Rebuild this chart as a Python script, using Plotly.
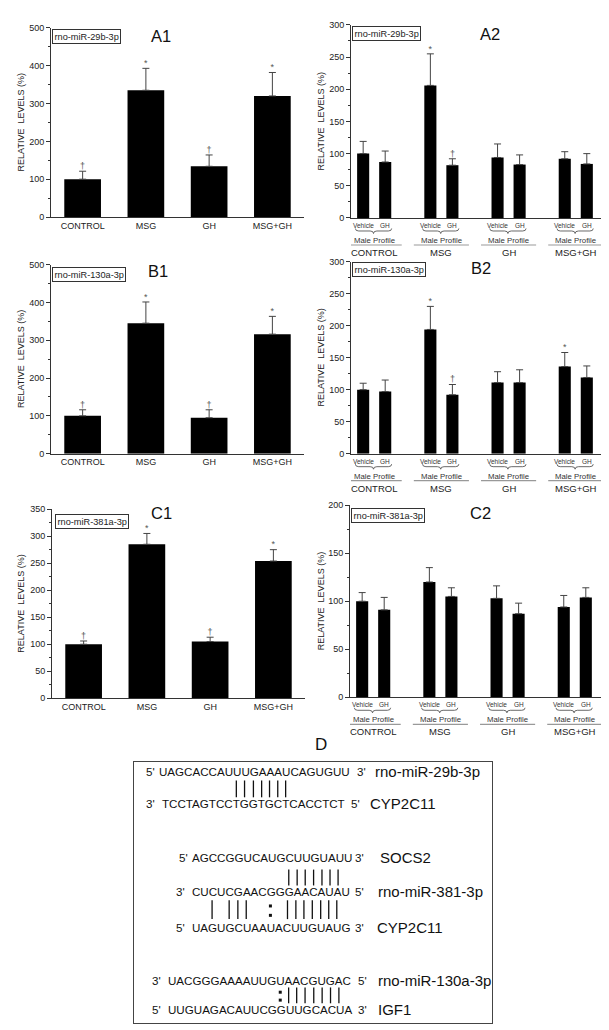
import numpy as np
import plotly.graph_objects as go

W, H = 609, 1030
FONT = "Liberation Sans, Arial, sans-serif"

# ---------------- data ----------------
groups = ["CONTROL", "MSG", "GH", "MSG+GH"]
subgroups = ["Vehicle", "GH"]
profile_label = "Male Profile"

a1_vals = [100, 335, 134, 320]
a1_err = [21, 58, 30, 62]
a1_sig = ["†", "*", "†", "*"]

a2_vehicle = [100, 206, 94, 92]
a2_vehicle_err = [19, 49, 21, 11]
a2_vehicle_sig = ["", "*", "", ""]
a2_gh = [87, 82, 83, 84]
a2_gh_err = [17, 10, 15, 16]
a2_gh_sig = ["", "†", "", ""]

b1_vals = [100, 345, 95, 316]
b1_err = [16, 56, 21, 47]
b1_sig = ["†", "*", "†", "*"]

b2_vehicle = [100, 194, 111, 136]
b2_vehicle_err = [10, 36, 17, 22]
b2_vehicle_sig = ["", "*", "", "*"]
b2_gh = [97, 92, 111, 119]
b2_gh_err = [18, 16, 20, 18]
b2_gh_sig = ["", "†", "", ""]

c1_vals = [100, 285, 105, 254]
c1_err = [6, 20, 8, 21]
c1_sig = ["†", "*", "†", "*"]

c2_vehicle = [100, 120, 103, 94]
c2_vehicle_err = [9, 15, 13, 12]
c2_vehicle_sig = ["", "", "", ""]
c2_gh = [91, 105, 87, 104]
c2_gh_err = [13, 9, 11, 10]
c2_gh_sig = ["", "", "", ""]

# panel D sequences
d_seqs = ["UAGCACCAUUUGAAAUCAGUGUU", "TCCTAGTCCTGGTGCTCACCTCT",
          "AGCCGGUCAUGCUUGUAUU", "CUCUCGAACGGGAACAUAU", "UAGUGCUAAUACUUGUAUG",
          "UACGGGAAAAUUGUAACGUGAC", "UUGUAGACAUUCGGUUGCACUA"]
d_left = ["5'", "3'", "5'", "3'", "5'", "3'", "5'"]
d_right = ["3'", "5'", "3'", "5'", "3'", "5'", "3'"]
d_names = ["rno-miR-29b-3p", "CYP2C11", "SOCS2", "rno-miR-381-3p",
           "CYP2C11", "rno-miR-130a-3p", "IGF1"]
# (upper row, lower row, Watson-Crick indices, wobble indices)
d_pairs = [(0, 1, list(range(9, 16)), []),
           (2, 3, list(range(11, 18)), []),
           (3, 4, [2, 4, 5, 6] + list(range(11, 18)), [9]),
           (5, 6, list(range(14, 21)), [13])]

# ---------------- layout helpers (pixel -> paper) ----------------
def pdx(a, b):
    return [a / W, b / W]

def pdy(top, bottom):
    return [1 - bottom / H, 1 - top / H]

def px(x):
    return x / W

def py(y):
    return 1 - y / H

fig = go.Figure()
layout = dict(width=W, height=H, margin=dict(l=0, r=0, t=0, b=0),
              paper_bgcolor="white", plot_bgcolor="white", showlegend=False,
              font=dict(family=FONT, color="#222"))
annotations = []
shapes = []

AX = "#333"
ERR = dict(color="#444", thickness=1, width=3.5)

panels = [
    dict(n=1, kind=1, vals=a1_vals, err=a1_err, sig=a1_sig, ymax=500, dtick=100,
         dx=(43, 296), dy=(15, 206), label="A1", lab_xy=(153, 23),
         mir="rno-miR-29b-3p", box=(44, 16)),
    dict(n=2, kind=2, veh=a2_vehicle, veh_err=a2_vehicle_err, veh_sig=a2_vehicle_sig,
         gh=a2_gh, gh_err=a2_gh_err, gh_sig=a2_gh_sig, ymax=300, dtick=50,
         dx=(343, 596), dy=(12, 207), label="A2", lab_xy=(482, 21),
         mir="rno-miR-29b-3p", box=(344, 13)),
    dict(n=3, kind=1, vals=b1_vals, err=b1_err, sig=b1_sig, ymax=500, dtick=100,
         dx=(43, 296), dy=(254, 445), label="B1", lab_xy=(150, 261),
         mir="rno-miR-130a-3p", box=(44, 256)),
    dict(n=4, kind=2, veh=b2_vehicle, veh_err=b2_vehicle_err, veh_sig=b2_vehicle_sig,
         gh=b2_gh, gh_err=b2_gh_err, gh_sig=b2_gh_sig, ymax=300, dtick=50,
         dx=(343, 596), dy=(251, 445), label="B2", lab_xy=(473, 257),
         mir="rno-miR-130a-3p", box=(344, 251)),
    dict(n=5, kind=1, vals=c1_vals, err=c1_err, sig=c1_sig, ymax=350, dtick=50,
         dx=(44, 297), dy=(501, 692), label="C1", lab_xy=(153, 505),
         mir="rno-miR-381a-3p", box=(47, 506)),
    dict(n=6, kind=2, veh=c2_vehicle, veh_err=c2_vehicle_err, veh_sig=c2_vehicle_sig,
         gh=c2_gh, gh_err=c2_gh_err, gh_sig=c2_gh_sig, ymax=200, dtick=50,
         dx=(342, 595), dy=(497, 691), label="C2", lab_xy=(472, 505),
         mir="rno-miR-381a-3p", box=(343, 500)),
]

OFF = 0.164   # half distance between paired bars (x units)
BW2 = 0.18    # paired bar width

idx = np.arange(len(groups))

for p in panels:
    n = p["n"]
    xa, ya = f"x{n}", f"y{n}"
    xkey, ykey = f"xaxis{n}", f"yaxis{n}"
    if p["kind"] == 1:
        layout[xkey] = dict(domain=pdx(*p["dx"]), range=[-0.5, 3.5], anchor=ya,
                            tickvals=list(idx), ticktext=groups, ticks="",
                            showline=True, linecolor=AX, linewidth=1,
                            showgrid=False, zeroline=False,
                            tickfont=dict(size=9, color="#222"))
    else:
        layout[xkey] = dict(domain=pdx(*p["dx"]), range=[-0.345, 3.42], anchor=ya,
                            showticklabels=False, ticks="",
                            showline=True, linecolor=AX, linewidth=1,
                            showgrid=False, zeroline=False)
    layout[ykey] = dict(domain=pdy(*p["dy"]), range=[0, p["ymax"]], anchor=xa,
                        dtick=p["dtick"], ticks="outside", ticklen=4, tickwidth=1,
                        tickcolor=AX, showline=True, linecolor=AX, linewidth=1,
                        showgrid=False, zeroline=False,
                        minor=dict(ticks="outside", ticklen=2, dtick=p["dtick"] / 2,
                                   tickcolor=AX, showgrid=False),
                        tickfont=dict(size=9, color="#222"))

    def add_bars(xs, vals, err, sig, width):
        fig.add_trace(go.Bar(x=xs, y=vals, width=width, marker_color="black",
                             marker_line_width=0, xaxis=xa, yaxis=ya,
                             error_y=dict(type="data", array=err,
                                          arrayminus=[0] * len(err), symmetric=False, **ERR)))
        sx = [x for x, s in zip(xs, sig) if s]
        sy = [v + e for v, e, s in zip(vals, err, sig) if s]
        st = [s for s in sig if s]
        if st:
            fig.add_trace(go.Scatter(x=sx, y=sy, text=st, mode="text",
                                     textposition="top center",
                                     textfont=dict(size=9, color="#555"),
                                     xaxis=xa, yaxis=ya, hoverinfo="skip"))

    if p["kind"] == 1:
        add_bars(list(idx), p["vals"], p["err"], p["sig"], 0.58)
    else:
        add_bars(list(idx - OFF), p["veh"], p["veh_err"], p["veh_sig"], BW2)
        add_bars(list(idx + OFF), p["gh"], p["gh_err"], p["gh_sig"], BW2)
        yd = f"{ya} domain"
        for i, g in enumerate(groups):
            for sx, sl in zip((i - OFF, i + OFF), subgroups):
                annotations.append(dict(x=sx, y=0, xref=xa, yref=yd, text=sl,
                                        showarrow=False, yanchor="middle", yshift=-7.5,
                                        font=dict(size=6.5, color="#333")))
            annotations.append(dict(x=i, y=0, xref=xa, yref=yd, text=profile_label,
                                    showarrow=False, yanchor="middle", yshift=-22.5,
                                    font=dict(size=7.8, color="#333")))
            annotations.append(dict(x=i, y=0, xref=xa, yref=yd, text=g,
                                    showarrow=False, yanchor="middle", yshift=-34.5,
                                    font=dict(size=9.5, color="#222")))
            shapes.append(dict(type="line", xref=xa, yref=yd, x0=i - 0.41, x1=i + 0.41,
                               ysizemode="pixel", yanchor=0, y0=-27, y1=-27,
                               line=dict(color="#999", width=1.2)))
            xl, xr, xm, d = i - 0.28, i + 0.26, i - 0.01, 0.05
            path = (f"M {xl},-10.5 Q {xl},-13 {xl + d},-13 L {xm - d},-13 "
                    f"Q {xm},-13 {xm},-15.5 Q {xm},-13 {xm + d},-13 "
                    f"L {xr - d},-13 Q {xr},-13 {xr},-10.5")
            shapes.append(dict(type="path", xref=xa, yref=yd, ysizemode="pixel",
                               yanchor=0, path=path, line=dict(color="#444", width=0.8)))

    # panel letter
    annotations.append(dict(x=px(p["lab_xy"][0]), y=py(p["lab_xy"][1]), xref="paper",
                            yref="paper", text=p["label"], showarrow=False,
                            xanchor="center", yanchor="middle",
                            font=dict(size=16.5, color="#111")))
    # miRNA boxed label
    annotations.append(dict(x=px(p["box"][0]), y=py(p["box"][1]), xref="paper",
                            yref="paper", text=p["mir"], showarrow=False,
                            xanchor="left", yanchor="top", bordercolor="#333",
                            borderwidth=1, borderpad=1.5, bgcolor="white",
                            font=dict(size=9.2, color="#222")))
    # y-axis title
    ytx = 13 if p["dx"][0] < 200 else 313
    ymid = (p["dy"][0] + p["dy"][1]) / 2
    annotations.append(dict(x=px(ytx), y=py(ymid), xref="paper", yref="paper",
                            text="RELATIVE\u00a0\u00a0LEVELS (%)", textangle=-90,
                            showarrow=False, xanchor="center", yanchor="middle",
                            font=dict(size=9, color="#222")))

# ---------------- panel D ----------------
layout["xaxis7"] = dict(domain=pdx(126, 484), range=[126, 484], anchor="y7",
                        showline=True, mirror=True, linecolor="#444", linewidth=1.2,
                        showticklabels=False, ticks="", showgrid=False, zeroline=False)
layout["yaxis7"] = dict(domain=pdy(756, 1020), range=[1020, 756], anchor="x7",
                        showline=True, mirror=True, linecolor="#444", linewidth=1.2,
                        showticklabels=False, ticks="", showgrid=False, zeroline=False)

SEQ_SIZE = 11.6
GLYPH_EM = {"A": 0.667, "C": 0.722, "G": 0.778, "U": 0.722, "T": 0.611}
row_y = [766, 798, 853, 887, 923, 977, 1006]
row_x0 = [150.0, 153.3, 183.3, 183.3, 183.3, 159.3, 159.3]   # left edge of sequence
row_lx = [142.5, 142.0, 175.0, 172.0, 172.0, 148.0, 148.0]
row_rx = [353.0, 347.0, 351.0, 351.0, 351.0, 354.0, 354.0]
row_nx = [365.0, 360.0, 370.0, 368.0, 367.0, 368.0, 368.0]
pair_span = [(775, 792), (865, 881), (896, 915), (984, 1000)]


def char_centers(r):
    s = d_seqs[r]
    w = np.array([GLYPH_EM[c] * SEQ_SIZE for c in s])
    return row_x0[r] + np.cumsum(w) - w / 2


for r, s in enumerate(d_seqs):
    annotations.append(dict(x=row_x0[r] - 1, y=row_y[r], xref="x7", yref="y7", text=s,
                            showarrow=False, xanchor="left", yanchor="middle",
                            font=dict(size=SEQ_SIZE, color="#111")))
    for xx, t in ((row_lx[r], d_left[r]), (row_rx[r], d_right[r])):
        annotations.append(dict(x=xx, y=row_y[r], xref="x7", yref="y7", text=t,
                                showarrow=False, xanchor="center", yanchor="middle",
                                font=dict(size=SEQ_SIZE, color="#111")))
    annotations.append(dict(x=row_nx[r], y=row_y[r], xref="x7", yref="y7", text=d_names[r],
                            showarrow=False, xanchor="left", yanchor="middle",
                            font=dict(size=15, color="#111")))

lx, ly, dxs, dys = [], [], [], []
for (u, l, wc, wob), (y0, y1) in zip(d_pairs, pair_span):
    cu, cl = char_centers(u), char_centers(l)
    for k in wc:
        xx = 0.5 * (cu[k] + cl[k])
        lx += [xx, xx, None]
        ly += [y0, y1, None]
    for k in wob:
        xx = 0.5 * (cu[k] + cl[k])
        dxs += [xx, xx]
        dys += [y0 + 0.3 * (y1 - y0), y0 + 0.8 * (y1 - y0)]
fig.add_trace(go.Scatter(x=lx, y=ly, mode="lines", line=dict(color="#111", width=1.3),
                         xaxis="x7", yaxis="y7", hoverinfo="skip"))
fig.add_trace(go.Scatter(x=dxs, y=dys, mode="markers",
                         marker=dict(symbol="square", size=3, color="#111"),
                         xaxis="x7", yaxis="y7", hoverinfo="skip"))

annotations.append(dict(x=px(313), y=py(739), xref="paper", yref="paper", text="D",
                        showarrow=False, xanchor="center", yanchor="middle",
                        font=dict(size=17, color="#111")))

layout["annotations"] = annotations
layout["shapes"] = shapes
fig.update_layout(**layout)
fig.write_html("out.html")
